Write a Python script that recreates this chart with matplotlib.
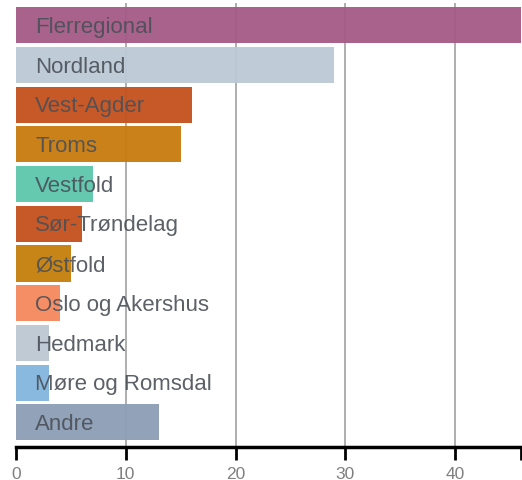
import matplotlib
matplotlib.use('Agg')
import matplotlib.pyplot as plt

regions = ["Flerregional", "Nordland", "Vest-Agder", "Troms", "Vestfold",
           "Sør-Trøndelag", "Østfold", "Oslo og Akershus", "Hedmark",
           "Møre og Romsdal", "Andre"]
counts = [46, 29, 16, 15, 7, 6, 5, 4, 3, 3, 13]
colors = ["#a55a85", "#bccad6", "#c4501c", "#c97a0c", "#5cc6aa",
          "#c4501c", "#c47e0a", "#f5875d", "#bcc7d3", "#84b6de", "#8c9db6"]
xticks = [0, 10, 20, 30, 40]

fig = plt.figure(figsize=(5.22, 4.81), dpi=100)
ax = fig.add_axes([16/522, 33/481, 505/522, 444/481])

pos = list(range(len(regions)))
ax.barh(pos, counts, height=0.91, color=colors, alpha=0.95, zorder=2)

for p, name in zip(pos, regions):
    ax.text(1.75, p + 0.03, name, ha='left', va='center', fontsize=16,
            color='#4a5058', alpha=0.9, zorder=3, family='Liberation Sans')

ax.set_xlim(0, 46)
ax.set_ylim(10.62, -0.56)

ax.set_xticks(xticks)
ax.set_xticks([46], minor=True)
ax.tick_params(axis='x', which='both', length=9, width=2, color='black',
               labelsize=12.5, labelcolor='#808080', pad=5)
for lbl in ax.get_xticklabels():
    lbl.set_family('Liberation Sans')
ax.set_yticks([])

for t in xticks[1:]:
    ax.axvline(t, color='#999999', lw=1.1, zorder=1)

for s in ['top', 'right', 'left']:
    ax.spines[s].set_visible(False)
ax.spines['bottom'].set_linewidth(2.5)

plt.savefig('out.png', dpi=100)
